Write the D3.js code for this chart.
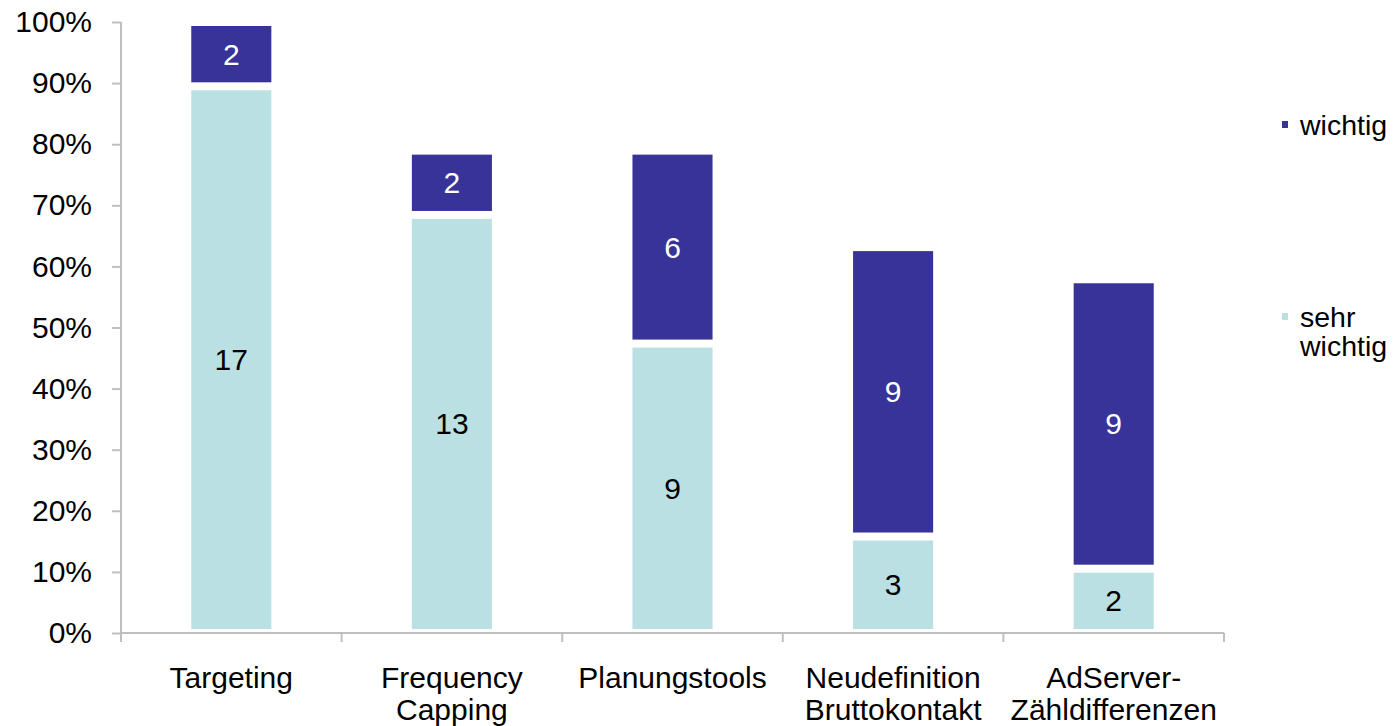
<!DOCTYPE html>
<html>
<head>
<meta charset="utf-8">
<script src="https://cdn.jsdelivr.net/npm/d3@7"></script>
<style>
  html, body { margin: 0; padding: 0; background: #fff; }
  svg { display: block; font-family: "Liberation Sans", Arial, sans-serif; }
</style>
</head>
<body>
<svg id="chart" width="1393" height="726"></svg>
<script>
// Categories (each label may wrap onto two lines)
const categories = ["Targeting", "Frequency Capping", "Planungstools", "Neudefinition Bruttokontakt", "AdServer-Zähldifferenzen"];
const categoryLines = [["Targeting"], ["Frequency", "Capping"], ["Planungstools"], ["Neudefinition", "Bruttokontakt"], ["AdServer-", "Zähldifferenzen"]];
// Number of respondents per answer
const sehrWichtig = [17, 13, 9, 3, 2];
const wichtig = [2, 2, 6, 9, 9];
const totalRespondents = 19;
const seriesNames = ["sehr wichtig", "wichtig"];
const yTicks = [0, 0.1, 0.2, 0.3, 0.4, 0.5, 0.6, 0.7, 0.8, 0.9, 1.0];

const colors = { "sehr wichtig": "#bae0e3", "wichtig": "#373399" };
const labelColors = { "sehr wichtig": "#000", "wichtig": "#fff" };

const svg = d3.select("#chart");
const margin = { left: 121, right: 169, top: 22, bottom: 93 };
const W = 1393, H = 726;

const x = d3.scaleBand().domain(categories).range([margin.left, W - margin.right]).paddingInner(0.637).paddingOuter(0.3185);
const y = d3.scaleLinear().domain([0, 1]).range([H - margin.bottom, margin.top]);

const rows = categories.map((c, i) => ({ cat: c, "sehr wichtig": sehrWichtig[i], "wichtig": wichtig[i] }));
const stacked = d3.stack().keys(seriesNames)(rows);

const fontSize = 30;
const legendFontSize = 28.5;
const gap = 4; // white separation around each segment

// bars
const layers = svg.append("g").selectAll("g").data(stacked).join("g")
  .attr("fill", d => colors[d.key]);
layers.selectAll("rect").data(d => d.map(p => ({ key: d.key, p }))).join("rect")
  .attr("x", d => x(d.p.data.cat))
  .attr("width", x.bandwidth())
  .attr("y", d => y(d.p[1] / totalRespondents) + gap)
  .attr("height", d => Math.max(0, y(d.p[0] / totalRespondents) - y(d.p[1] / totalRespondents) - 2 * gap));

// value labels
layers.selectAll("text").data(d => d.map(p => ({ key: d.key, p }))).join("text")
  .attr("x", d => x(d.p.data.cat) + x.bandwidth() / 2)
  .attr("y", d => (y(d.p[0] / totalRespondents) + y(d.p[1] / totalRespondents)) / 2)
  .attr("dy", "0.35em")
  .attr("text-anchor", "middle")
  .attr("font-size", fontSize)
  .attr("fill", d => labelColors[d.key])
  .text(d => d.p[1] - d.p[0]);

// y axis
const yAxis = svg.append("g").attr("transform", `translate(${margin.left},0)`)
  .call(d3.axisLeft(y).tickValues(yTicks).tickFormat(d3.format(".0%")).tickSize(9).tickPadding(20));
yAxis.select(".domain").attr("stroke", "#bfbfbf").attr("stroke-width", 2).attr("d", `M0,${y(1)}V${y(0)}`);
yAxis.selectAll(".tick line").attr("stroke", "#bfbfbf").attr("stroke-width", 2);
yAxis.selectAll(".tick text").attr("font-size", fontSize).attr("fill", "#000").attr("font-family", "Liberation Sans, Arial, sans-serif");

// x axis with tick marks between categories
const xBase = y(0);
const xAxis = svg.append("g");
const step = x.step();
const edges = d3.range(categories.length + 1).map(i => margin.left + i * step);
xAxis.append("line")
  .attr("x1", margin.left).attr("x2", W - margin.right)
  .attr("y1", xBase).attr("y2", xBase)
  .attr("stroke", "#bfbfbf").attr("stroke-width", 2);
xAxis.selectAll("line.tk").data(edges).join("line").attr("class", "tk")
  .attr("x1", d => d).attr("x2", d => d)
  .attr("y1", xBase).attr("y2", xBase + 9)
  .attr("stroke", "#bfbfbf").attr("stroke-width", 2);

// category labels
const catLabels = svg.append("g").selectAll("text").data(categories).join("text")
  .attr("x", d => x(d) + x.bandwidth() / 2)
  .attr("y", 688)
  .attr("text-anchor", "middle")
  .attr("font-size", fontSize)
  .attr("fill", "#000");
catLabels.each(function (d, i) {
  const t = d3.select(this);
  categoryLines[i].forEach((ln, j) => {
    t.append("tspan").attr("x", x(d) + x.bandwidth() / 2).attr("dy", j === 0 ? 0 : 32).text(ln);
  });
});

// legend
const legendItems = [
  { key: "wichtig", lines: ["wichtig"], y: 125 },
  { key: "sehr wichtig", lines: ["sehr", "wichtig"], y: 317 }
];
const lg = svg.append("g").selectAll("g").data(legendItems).join("g");
lg.append("rect")
  .attr("x", 1282).attr("y", d => d.y - 4)
  .attr("width", 6).attr("height", 7)
  .attr("fill", d => colors[d.key]);
lg.append("text")
  .attr("x", 1300).attr("y", d => d.y)
  .attr("font-size", legendFontSize)
  .attr("fill", "#000")
  .each(function (d) {
    const t = d3.select(this);
    d.lines.forEach((ln, j) => {
      t.append("tspan").attr("x", 1300).attr("dy", j === 0 ? "0.35em" : 29).text(ln);
    });
  });
</script>
</body>
</html>
